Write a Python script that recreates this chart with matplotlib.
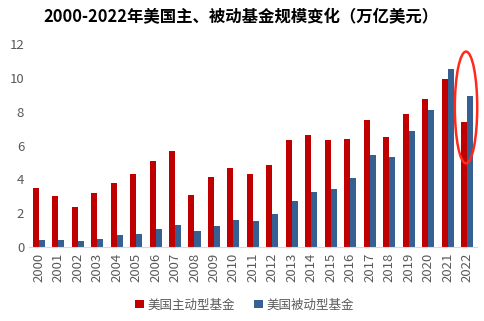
import matplotlib.pyplot as plt
import numpy as np
from matplotlib.patches import Ellipse

plt.rcParams['font.family'] = ['Noto Sans CJK SC', 'DejaVu Sans']

years = [str(y) for y in range(2000, 2023)]
active = [3.5, 3.05, 2.35, 3.2, 3.8, 4.3, 5.1, 5.65, 3.1, 4.15, 4.7, 4.3,
          4.88, 6.32, 6.6, 6.32, 6.36, 7.49, 6.48, 7.84, 8.73, 9.91, 7.37]
passive = [0.4, 0.4, 0.35, 0.5, 0.7, 0.8, 1.05, 1.3, 0.95, 1.25, 1.6, 1.57,
           1.98, 2.75, 3.28, 3.46, 4.11, 5.47, 5.3, 6.89, 8.08, 10.5, 8.9]

red = '#C00000'
blue = '#376092'
grey = '#595959'

fig = plt.figure(figsize=(4.84, 3.21), dpi=100)
ax = fig.add_axes([0.06, 0.23, 0.925, 0.633])

x = np.arange(len(years))
w = 0.31
ax.bar(x - w / 2, active, w, color=red, label='美国主动型基金')
ax.bar(x + w / 2, passive, w, color=blue, label='美国被动型基金')

ax.set_xlim(-0.5, len(years) - 0.5)
ax.set_ylim(0, 12)
ax.set_yticks(range(0, 13, 2))
ax.set_xticks(x)
ax.set_xticklabels(years, rotation=90)
ax.tick_params(axis='both', length=0, labelsize=9.5, colors=grey)
ax.tick_params(axis='x', pad=4)
for s in ['top', 'right', 'left']:
    ax.spines[s].set_visible(False)
ax.spines['bottom'].set_color('#d9d9d9')

# highlight the latest year
ax.add_patch(Ellipse((21.95, 8.25), 1.15, 6.6, fill=False, edgecolor='#ff2a1a',
                     linewidth=1.8, clip_on=False))

fig.text(0.497, 0.945, '2000-2022年美国主、被动基金规模变化（万亿美元）',
         ha='center', va='center', fontsize=11.8, fontweight='bold')
fig.legend(loc='center', bbox_to_anchor=(0.505, 0.05), ncol=2, frameon=False,
           fontsize=9, handlelength=0.7, handleheight=0.7, handletextpad=0.3,
           columnspacing=1.5, labelcolor=grey)

fig.savefig('out.png', dpi=100)
